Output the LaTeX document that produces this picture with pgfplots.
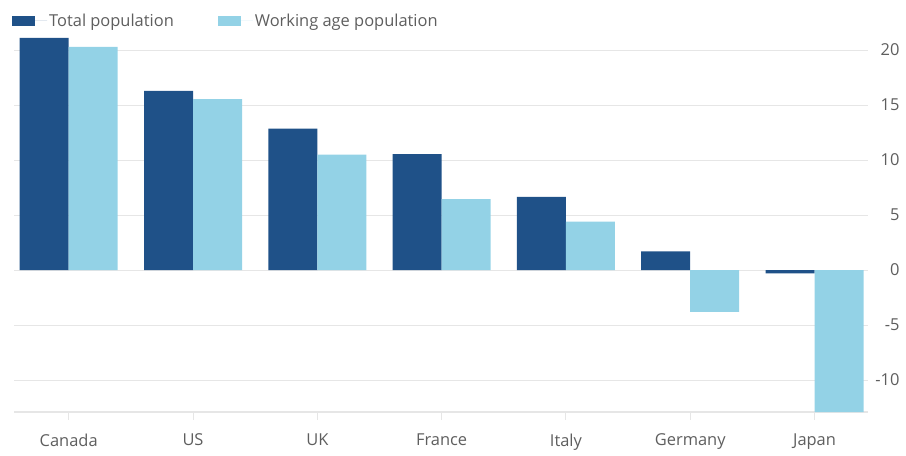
\documentclass[border=0pt]{standalone}
\usepackage{fontspec}
\setmainfont{Open Sans}
\usepackage{pgfplots}
\pgfplotsset{compat=1.18}
\definecolor{darkb}{HTML}{1F5188}
\definecolor{lightb}{HTML}{93D2E6}
\definecolor{gridc}{HTML}{E6E6E6}
\definecolor{txt}{HTML}{5E5E5E}
\begin{document}
\begin{tikzpicture}
\path (-14bp,-44bp) rectangle (892bp,412bp);
\begin{axis}[
  scale only axis,
  width=854bp, height=377bp,
  xmin=-0.44, xmax=6.43,
  ymin=-12.9, ymax=21.37,
  ybar=0pt, bar width=49bp,
  axis x line*=bottom, axis y line*=right,
  x axis line style={draw=gridc, line width=1.2bp, -},
  y axis line style={draw=none},
  xtick={0,...,6},
  xticklabels={Canada,US,UK,France,Italy,Germany,Japan},
  x tick style={draw=gridc, line width=1bp},
  xtick align=outside, major tick length=8bp,
  ytick={-10,-5,0,5,10,15,20},
  y tick style={draw=none},
  yticklabel pos=right,
  ymajorgrids, grid style={gridc, line width=1bp},
  yticklabel style={anchor=east, xshift=35bp},
  xticklabel style={yshift=-10bp},
  ticklabel style={font=\fontsize{16.5}{19}\selectfont, text=txt},
  /pgf/number format/assume math mode=true,
  legend columns=2,
  legend style={at={(rel axis cs:0,1)}, anchor=south west, xshift=-5bp, yshift=3bp,
    draw=none, fill=none, font=\fontsize{16.5}{19}\selectfont, text=txt,
    /tikz/every even column/.append style={column sep=42bp}},
  legend image code/.code={\path (0bp,0bp) -- (35bp,0bp);\fill[#1] (0bp,-5bp) rectangle (23bp,5bp);},
]
\addplot[fill=darkb, draw=none] coordinates {(0,21.1) (1,16.3) (2,12.85) (3,10.55) (4,6.65) (5,1.7) (6,-0.3)};
\addplot[fill=lightb, draw=none] coordinates {(0,20.3) (1,15.55) (2,10.5) (3,6.45) (4,4.4) (5,-3.8) (6,-12.9)};
\legend{Total population, Working age population}
\end{axis}
\end{tikzpicture}
\end{document}
